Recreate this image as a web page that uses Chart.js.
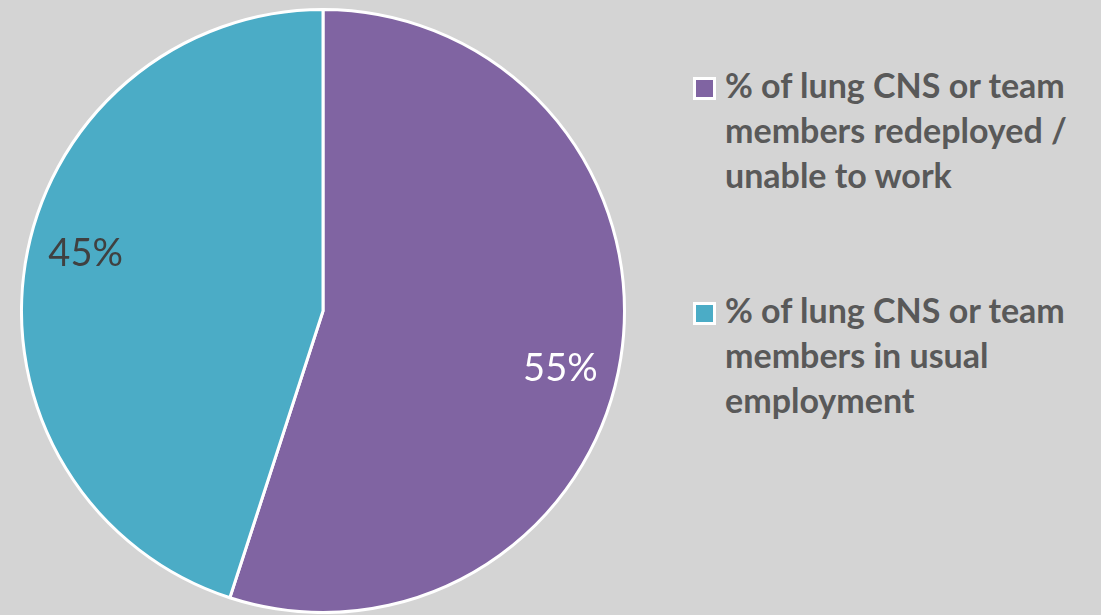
<!DOCTYPE html>
<html>
<head>
<meta charset="utf-8">
<script src="https://cdn.jsdelivr.net/npm/chart.js@4/dist/chart.umd.min.js"></script>
<style>
  html, body { margin: 0; padding: 0; background: #d4d4d4; }
  body { width: 1101px; height: 615px; position: relative; overflow: hidden; font-family: Lato, "Open Sans", sans-serif; }
  #pieBox { position: absolute; left: 20px; top: 8px; width: 606px; height: 606px; }
  #legend { position: absolute; left: 693px; top: 62px; }
  .item { position: relative; padding-left: 32px; font-weight: bold; font-size: 34px; line-height: 45px; color: #595959; margin-bottom: 90px; }
  .swatch { position: absolute; left: 0; top: 15px; width: 17px; height: 17px; border: 3px solid #fff; }
</style>
</head>
<body>
<div id="pieBox"><canvas id="pieChart"></canvas></div>
<div id="legend"></div>
<script>
const categories = [
  ['% of lung CNS or team', 'members redeployed /', 'unable to work'],
  ['% of lung CNS or team', 'members in usual', 'employment']
];
const shares = [55, 45];
const colors = ['#8064a2', '#4bacc6'];
const labelColors = ['#ffffff', '#404040'];

// legend on the right, one block per category
const legend = document.getElementById('legend');
categories.forEach((lines, i) => {
  const item = document.createElement('div');
  item.className = 'item';
  item.innerHTML = '<span class="swatch" style="background:' + colors[i] + '"></span>' + lines.join('<br>');
  legend.appendChild(item);
});

// percentage text inside each slice, a little past the slice's mid angle
const sliceLabels = {
  id: 'sliceLabels',
  afterDatasetsDraw(chart) {
    const ctx = chart.ctx;
    const arcs = chart.getDatasetMeta(0).data;
    ctx.save();
    ctx.font = '38px Lato, "Open Sans", sans-serif';
    ctx.textAlign = 'center';
    ctx.textBaseline = 'middle';
    arcs.forEach((arc, i) => {
      const p = arc.getProps(['x', 'y', 'startAngle', 'endAngle', 'outerRadius'], true);
      const mid = (p.startAngle + p.endAngle) / 2 + 0.08;
      const r = p.outerRadius * 0.81;
      ctx.fillStyle = labelColors[i];
      ctx.fillText(shares[i] + '%', p.x + Math.cos(mid) * r, p.y + Math.sin(mid) * r);
    });
    ctx.restore();
  }
};

new Chart(document.getElementById('pieChart'), {
  type: 'pie',
  data: {
    labels: categories,
    datasets: [{
      data: shares,
      backgroundColor: colors,
      borderColor: '#ffffff',
      borderWidth: 3
    }]
  },
  options: {
    responsive: true,
    maintainAspectRatio: false,
    animation: false,
    layout: { padding: 0 },
    plugins: { legend: { display: false }, tooltip: { enabled: false } }
  },
  plugins: [sliceLabels]
});
</script>
</body>
</html>
